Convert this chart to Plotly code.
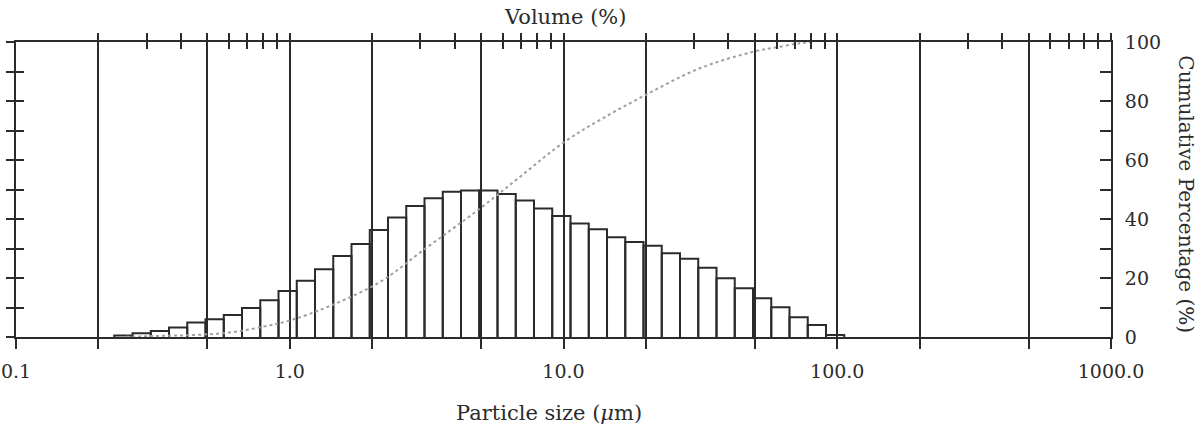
import plotly.graph_objects as go

# ---- data ----
# histogram bin edges (particle size, um) - 40 bins
bin_edges_um = [0.2285, 0.2664, 0.3107, 0.3622, 0.4223, 0.4924, 0.5741, 0.6693, 0.7803, 0.9098,
                1.0607, 1.2367, 1.4419, 1.6811, 1.9600, 2.2852, 2.6643, 3.1063, 3.6217, 4.2225,
                4.9230, 5.7397, 6.6919, 7.8021, 9.0965, 10.607, 12.367, 14.419, 16.811, 19.600,
                22.852, 26.643, 31.063, 36.217, 42.225, 49.230, 57.397, 66.919, 78.021, 90.965,
                106.07]
# volume percentage in each bin (left axis, 0-10 %)
volume_pct = [0.05, 0.13, 0.20, 0.32, 0.49, 0.60, 0.75, 0.98, 1.25, 1.56,
              1.91, 2.30, 2.75, 3.15, 3.63, 4.05, 4.44, 4.70, 4.92, 4.97,
              4.97, 4.85, 4.63, 4.36, 4.10, 3.85, 3.65, 3.38, 3.22, 3.09,
              2.84, 2.65, 2.35, 1.99, 1.65, 1.31, 1.01, 0.67, 0.41, 0.07]
# cumulative curve (right axis)
cum_size_um = [0.24, 0.31, 0.45, 0.6, 0.8, 1.0, 1.4, 2.14, 3.1, 4.96, 7.0, 10.0,
               13.6, 19.9, 31.5, 49.4, 61.8, 73.1, 83.0]
cum_pct = [0.0, 0.3, 0.7, 1.5, 3.5, 5.6, 10.5, 18.7, 29.7, 43.6, 54.6, 65.9,
           73.6, 82.0, 91.1, 96.7, 98.4, 99.6, 100.0]

x_tick_vals = [0.1, 0.2, 0.5, 1, 2, 5, 10, 20, 50, 100, 200, 500, 1000]
x_tick_text = ["0.1", "", "", "1.0", "", "", "10.0", "", "", "100.0", "", "", "1000.0"]
top_minor_vals = [m * d for d in (0.1, 1, 10, 100) for m in range(1, 10)][1:] + [1000]
y_right_vals = list(range(0, 101, 10))
y_right_text = [str(v) if v % 20 == 0 else "" for v in y_right_vals]

FONT = "DejaVu Serif"
INK = "#2b2b2b"

# ---- build bar outlines ----
bx, by = [], []
for i, h in enumerate(volume_pct):
    e0, e1 = bin_edges_um[i], bin_edges_um[i + 1]
    bx += [e0, e0, e1, e1, None]
    by += [0, h, h, 0, None]

fig = go.Figure()
fig.add_trace(go.Scatter(x=bx, y=by, mode="lines", line=dict(color=INK, width=2),
                         xaxis="x", yaxis="y", showlegend=False, hoverinfo="skip"))
fig.add_trace(go.Scatter(x=cum_size_um, y=cum_pct, mode="lines", line_shape="spline",
                         line=dict(color="#a0a0a0", width=2, dash="dot"),
                         xaxis="x", yaxis="y2", showlegend=False))
# helper traces so overlay axes get drawn
fig.add_trace(go.Scatter(x=[None], y=[None], xaxis="x2", yaxis="y", showlegend=False))
fig.add_trace(go.Scatter(x=[None], y=[None], xaxis="x3", yaxis="y", showlegend=False))
fig.add_trace(go.Scatter(x=[None], y=[None], xaxis="x", yaxis="y3", showlegend=False))

xr = [-1, 3]
fig.update_layout(
    width=1198, height=426,
    margin=dict(l=16, r=87, t=42, b=89, autoexpand=False),
    paper_bgcolor="white", plot_bgcolor="white",
    font=dict(family=FONT, size=19, color=INK),
    xaxis=dict(type="log", range=xr, tickvals=x_tick_vals, ticktext=x_tick_text,
               ticks="outside", ticklen=10, tickwidth=2, tickcolor=INK,
               showgrid=True, gridcolor=INK, gridwidth=2, automargin=False,
               showline=True, linecolor=INK, linewidth=2, zeroline=False,
               ticklabelstandoff=6, tickfont=dict(size=19)),
    xaxis2=dict(type="log", range=xr, overlaying="x", side="top", anchor="y",
                tickvals=top_minor_vals, showticklabels=False, automargin=False,
                ticks="outside", ticklen=7, tickwidth=2, tickcolor=INK,
                showgrid=False, showline=True, linecolor=INK, linewidth=2, zeroline=False),
    xaxis3=dict(type="log", range=xr, overlaying="x", side="top", anchor="y",
                tickvals=top_minor_vals, showticklabels=False, automargin=False,
                ticks="inside", ticklen=7, tickwidth=2, tickcolor=INK,
                showgrid=False, showline=False, zeroline=False),
    yaxis=dict(range=[0, 10], tickvals=list(range(0, 11)), showticklabels=False,
               ticks="outside", ticklen=8, tickwidth=2, tickcolor=INK, automargin=False,
               showgrid=False, showline=True, linecolor=INK, linewidth=2, zeroline=False),
    yaxis3=dict(range=[0, 10], overlaying="y", side="left", anchor="x",
                tickvals=list(range(0, 11)), showticklabels=False, automargin=False,
                ticks="inside", ticklen=8, tickwidth=2, tickcolor=INK,
                showgrid=False, showline=False, zeroline=False),
    yaxis2=dict(range=[0, 100], overlaying="y", side="right", anchor="x",
                tickvals=y_right_vals, ticktext=y_right_text, automargin=False,
                ticks="inside", ticklen=11, tickwidth=2, tickcolor=INK,
                showgrid=False, showline=True, linecolor=INK, linewidth=2, zeroline=False,
                ticklabelstandoff=8, tickfont=dict(size=19)),
    annotations=[
        dict(text="Volume (%)", xref="paper", yref="paper", x=0.501, y=1.085,
             xanchor="center", yanchor="middle", showarrow=False, font=dict(size=21)),
        dict(text="Particle size (<i>μ</i>m)", xref="paper", yref="paper", x=0.487, y=-0.258,
             xanchor="center", yanchor="middle", showarrow=False, font=dict(size=21)),
        dict(text="Cumulative Percentage (%)", xref="paper", yref="paper", x=1.069, y=0.485,
             xanchor="center", yanchor="middle", showarrow=False, textangle=90,
             font=dict(size=20)),
    ],
)

fig.write_html("out.html")
